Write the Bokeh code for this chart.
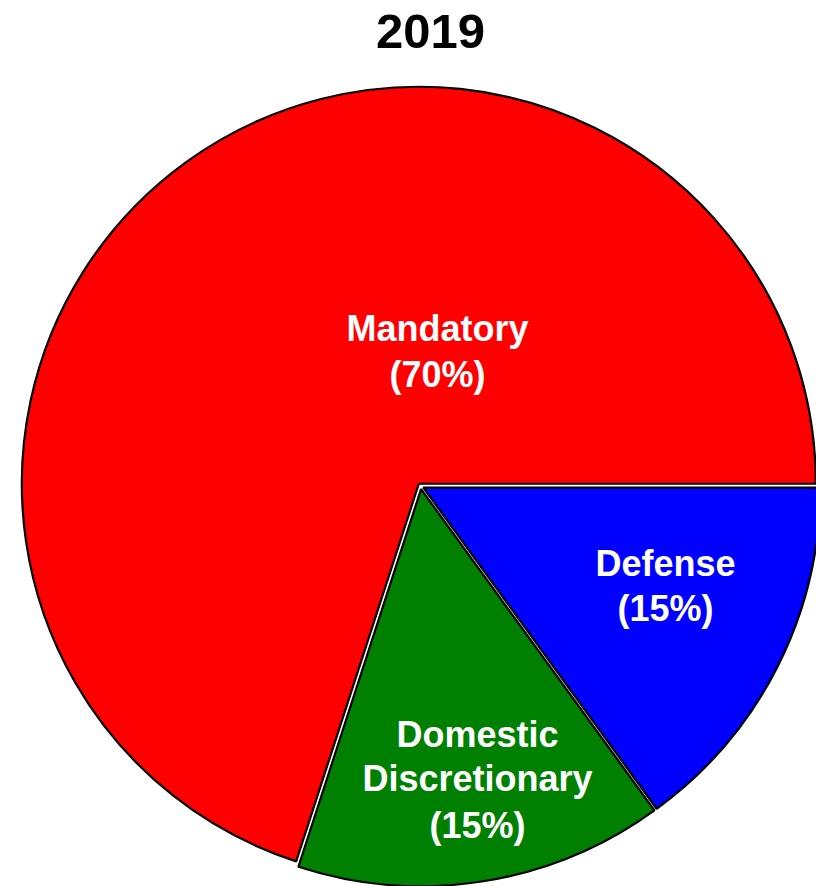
import math
from bokeh.plotting import figure
from bokeh.models import Range1d, ColumnDataSource
from bokeh.core.properties import value
from bokeh.embed import file_html
from bokeh.resources import INLINE

# ---- data ----
title_text = "2019"
categories = ["Defense", "Domestic Discretionary", "Mandatory"]  # clockwise from 3 o'clock
shares = [15, 15, 70]
colors = ["#0000ff", "#008000", "#ff0000"]
label_lines = [["Defense", "(15%)"],
               ["Domestic", "Discretionary", "(15%)"],
               ["Mandatory", "(70%)"]]

# ---- layout (pixels) ----
W, H = 816, 886
CX, CY = 420.1, 485.7      # pie centre in screen pixels
R = 397
EXPLODE = 3.0
LABEL_SHIFT = 12
label_pos = [(665, [575, 620]), (477, [746, 790, 837]), (437, [340, 386])]

def dy(ypix):
    return H - ypix

p = figure(width=W, height=H, output_backend="svg", toolbar_location=None,
           x_range=Range1d(0, W), y_range=Range1d(0, H), min_border=0,
           background_fill_color="white", border_fill_color="white")
p.axis.visible = False
p.grid.visible = False
p.outline_line_color = None

total = float(sum(shares))
xs, ys, starts, ends = [], [], [], []
cum = 0.0
for s in shares:
    a0 = -2 * math.pi * cum / total          # clockwise from 0
    cum += s
    a1 = -2 * math.pi * cum / total
    mid = (a0 + a1) / 2
    xs.append(CX + EXPLODE * math.cos(mid))
    ys.append(dy(CY) + EXPLODE * math.sin(mid))
    starts.append(a1)
    ends.append(a0)

src = ColumnDataSource(dict(x=xs, y=ys, start=starts, end=ends, color=colors, cat=categories))
p.wedge(x="x", y="y", radius=R, start_angle="start", end_angle="end",
        fill_color="color", line_color="black", line_width=2.2, source=src)

tx, ty, tt = [], [], []
for lines, (lx, bases) in zip(label_lines, label_pos):
    for line, b in zip(lines, bases):
        tx.append(lx)
        ty.append(dy(b - LABEL_SHIFT))
        tt.append(line)
p.text(x=tx, y=ty, text=tt, text_align="center", text_baseline="alphabetic",
       text_color="white", text_font=value("Liberation Sans"), text_font_style="bold",
       text_font_size="36px")

p.text(x=[430], y=[dy(49 - 18)], text=[title_text], text_align="center", text_baseline="alphabetic",
       text_color="black", text_font=value("Liberation Sans"), text_font_style="bold",
       text_font_size="49px")

open("out.html", "w").write(file_html(p, INLINE))
